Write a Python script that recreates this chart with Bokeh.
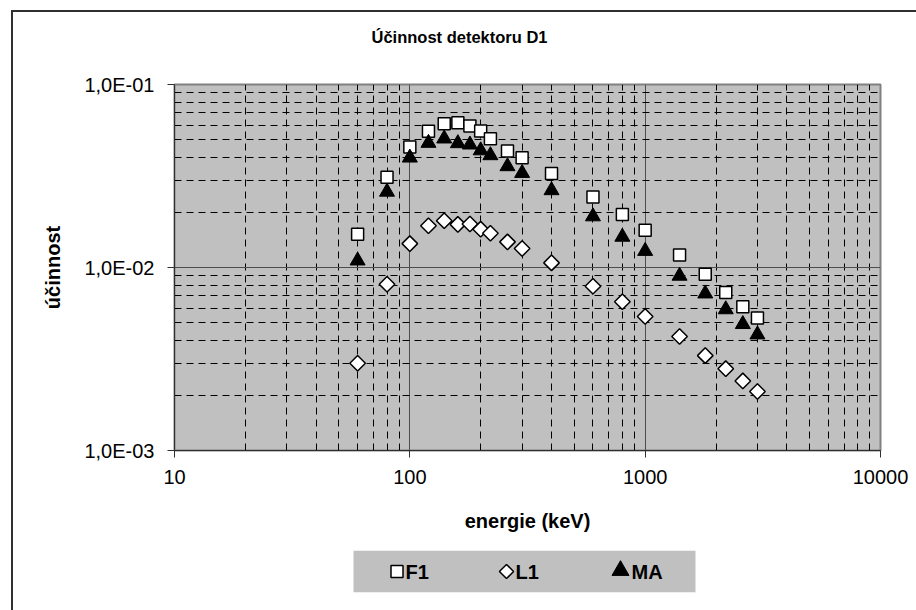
from bokeh.plotting import figure
from bokeh.layouts import column
from bokeh.models import FixedTicker, Range1d
from bokeh.core.properties import value
from bokeh.embed import file_html
from bokeh.resources import INLINE
import math

# Detector efficiency vs. gamma energy for three calibration setups
energy_kev = [60, 80, 100, 120, 140, 160, 180, 200, 220, 260, 300,
              400, 600, 800, 1000, 1400, 1800, 2200, 2600, 3000]
eff_f1 = [0.0152, 0.0311, 0.0456, 0.0555, 0.0611, 0.0618, 0.0593, 0.0557, 0.0506, 0.0433, 0.0398,
          0.0326, 0.0243, 0.0195, 0.0160, 0.0117, 0.0092, 0.0073, 0.0061, 0.0053]
eff_l1 = [0.0030, 0.0081, 0.0135, 0.0169, 0.0180, 0.0172, 0.0173, 0.0162, 0.0154, 0.0138, 0.0127,
          0.0106, 0.0079, 0.0065, 0.0054, 0.0042, 0.0033, 0.0028, 0.0024, 0.0021]
eff_ma = [0.0109, 0.0259, 0.0398, 0.0479, 0.0506, 0.0477, 0.0469, 0.0436, 0.0410, 0.0357, 0.0328,
          0.0264, 0.0190, 0.0147, 0.0123, 0.0090, 0.0072, 0.0059, 0.0049, 0.0043]
series_names = ["F1", "L1", "MA"]

x_tick_values = [10, 100, 1000, 10000]
x_tick_labels = ["10", "100", "1000", "10000"]
y_tick_values = [0.001, 0.01, 0.1]
y_tick_labels = ["1,0E-03", "1,0E-02", "1,0E-01"]

FONT = "Liberation Sans"
PLOT_BG = "#C0C0C0"
W = 903
BORDER_L, BORDER_R = 161, 36          # shared by all three stacked figures
FRAME_W = W - BORDER_L - BORDER_R

# marker styles shared by the plot and the key strip
STYLE_F1 = dict(marker="square", fill_color="white", line_color="black", line_width=1.5)
STYLE_L1 = dict(marker="square", angle=math.pi / 4, fill_color="white", line_color="black", line_width=1.5)
STYLE_MA = dict(marker="triangle", fill_color="black", line_color="black", line_width=1)


def decade_minors(lo_exp, hi_exp):
    return [m * 10.0 ** e for e in range(lo_exp, hi_exp) for m in range(2, 10)]


# ---- title strip ----
head = figure(width=W, height=50, x_axis_type=None, y_axis_type=None,
              x_range=(0, 1), y_range=(0, 1),
              output_backend="svg", toolbar_location=None,
              min_border_left=BORDER_L, min_border_right=BORDER_R,
              min_border_top=33, min_border_bottom=0)
head.outline_line_color = None
head.background_fill_color = "white"
head.border_fill_color = "white"
head.xgrid.visible = False
head.ygrid.visible = False
head.title.text = "Účinnost detektoru D1"
head.title.text_font = FONT
head.title.text_font_size = "16.5px"
head.title.text_font_style = "bold"
head.title.text_color = "black"
head.title.align = "left"
head.title.offset = 197
head.title.standoff = 0

# ---- main chart ----
p = figure(width=W, height=486, title=None,
           x_axis_type="log", y_axis_type="log",
           x_range=(10, 10000), y_range=(0.001, 0.1),
           output_backend="svg", toolbar_location=None,
           min_border_left=BORDER_L, min_border_right=BORDER_R,
           min_border_top=22, min_border_bottom=98)
p.background_fill_color = PLOT_BG
p.border_fill_color = "white"
p.outline_line_color = "#808080"
p.outline_line_width = 2

xticker = FixedTicker(ticks=x_tick_values, minor_ticks=decade_minors(1, 4))
yticker = FixedTicker(ticks=y_tick_values, minor_ticks=decade_minors(-3, -1))
xaxis = p.below[0]
yaxis = p.left[0]
xaxis.ticker = xticker
yaxis.ticker = yticker
p.xgrid.ticker = xticker
p.ygrid.ticker = yticker
xaxis.major_label_overrides = dict(zip(x_tick_values, x_tick_labels))
yaxis.major_label_overrides = dict(zip(y_tick_values, y_tick_labels))

for ax in (xaxis, yaxis):
    ax.axis_line_color = "#303030"
    ax.axis_line_width = 1
    ax.major_tick_line_color = "#303030"
    ax.major_tick_in = 0
    ax.major_tick_out = 7
    ax.minor_tick_line_color = None
    ax.major_label_text_font = FONT
    ax.major_label_text_font_size = "20px"
    ax.major_label_text_color = "black"
    ax.axis_label_text_font = FONT
    ax.axis_label_text_font_size = "20px"
    ax.axis_label_text_font_style = "bold"
    ax.axis_label_text_color = "black"

xaxis.axis_label = "energie (keV)"
yaxis.axis_label = "účinnost"
xaxis.major_label_standoff = 12
yaxis.major_label_standoff = 13
xaxis.axis_label_standoff = 23
yaxis.axis_label_standoff = 17

# grid: solid decades, dashed sub-decades
for g in (p.xgrid[0], p.ygrid[0]):
    g.grid_line_color = "#4d4d4d"
    g.grid_line_width = 1
    g.minor_grid_line_color = "black"
    g.minor_grid_line_width = 1
    g.minor_grid_line_dash = "7 5"

p.scatter(energy_kev, eff_f1, size=12, **STYLE_F1)
p.scatter(energy_kev, eff_l1, size=11, **STYLE_L1)
p.scatter(energy_kev, eff_ma, size=15, **STYLE_MA)

# ---- key strip: grey box with the series key, in pixel units of the frame ----
KEY_H = 42
key = figure(width=W, height=62, x_axis_type=None, y_axis_type=None,
             x_range=Range1d(0, FRAME_W), y_range=Range1d(0, KEY_H),
             output_backend="svg", toolbar_location=None,
             min_border_left=BORDER_L, min_border_right=BORDER_R,
             min_border_top=2, min_border_bottom=18)
key.outline_line_color = None
key.border_fill_color = "white"
key.background_fill_color = "white"
key.xgrid.visible = False
key.ygrid.visible = False

box_left, box_right = 179, 521
swatch_x = [222.5, 332, 446]
label_x = [231, 341, 457]
mid = KEY_H / 2
key.quad(left=box_left, right=box_right, bottom=0, top=KEY_H,
         fill_color=PLOT_BG, line_color=None)
key.scatter([swatch_x[0]], [mid], size=12, **STYLE_F1)
key.scatter([swatch_x[1]], [mid], size=10, **STYLE_L1)
key.scatter([swatch_x[2]], [mid + 1], size=17, **STYLE_MA)
key.text(x=label_x, y=[mid] * 3, text=series_names,
         text_font=value(FONT), text_font_size="20px", text_font_style="bold",
         text_color="black", text_baseline="middle", text_align="left")

page = column(head, p, key, spacing=0)
page.margin = (10, 0, 0, 11)
page.styles = {"border-left": "2px solid #303030", "border-top": "2px solid #303030"}

open("out.html", "w").write(file_html(page, INLINE))
